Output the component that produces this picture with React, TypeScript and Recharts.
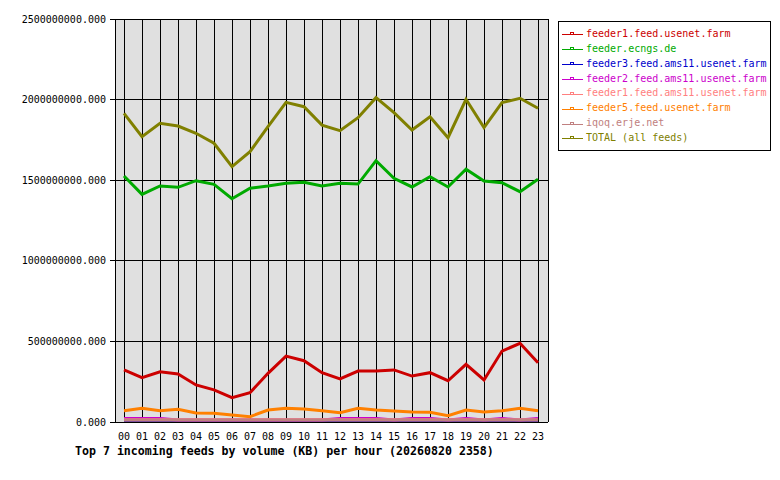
import React from 'react';
import { LineChart, Line, XAxis, YAxis, CartesianGrid, Legend } from 'recharts';

const hours = ['00','01','02','03','04','05','06','07','08','09','10','11','12','13','14','15','16','17','18','19','20','21','22','23'];

const feeder1Usenet = [323,275,312,298,230,199,151,182,302,409,380,306,267,316,316,323,285,306,256,358,261,440,488,368];
const ecngs = [1526,1412,1464,1456,1497,1474,1385,1450,1464,1481,1487,1464,1481,1476,1621,1512,1458,1522,1458,1568,1495,1484,1429,1506];
const feeder3Ams11 = [8,8,8,8,8,8,8,8,8,8,8,8,8,8,8,8,8,8,8,8,8,8,8,8];
const feeder2Ams11 = [21,21,21,12,12,12,12,12,12,12,12,12,21,21,21,12,21,21,12,21,12,21,12,21];
const feeder1Ams11 = [14,14,14,14,14,14,14,14,14,14,14,14,14,14,14,14,14,14,14,14,14,14,14,14];
const feeder5Usenet = [70,85,70,79,56,54,43,33,74,85,81,70,58,85,74,68,62,60,39,74,62,70,85,70];
const iqoq = [13,13,13,13,13,13,13,13,13,13,13,13,13,13,13,13,13,13,13,13,13,13,13,13];
const total = [1915,1770,1853,1836,1791,1729,1584,1677,1832,1983,1956,1842,1807,1888,2012,1919,1811,1894,1764,2002,1826,1981,2008,1946];

const yTicks = [0, 500000000, 1000000000, 1500000000, 2000000000, 2500000000];

const seriesNames = [
  'feeder1.feed.usenet.farm',
  'feeder.ecngs.de',
  'feeder3.feed.ams11.usenet.farm',
  'feeder2.feed.ams11.usenet.farm',
  'feeder1.feed.ams11.usenet.farm',
  'feeder5.feed.usenet.farm',
  'iqoq.erje.net',
  'TOTAL (all feeds)',
];
const seriesColors = ['#cc0000', '#00aa00', '#0000cc', '#cc00cc', '#ff8080', '#ff8000', '#c08080', '#808000'];
const seriesValues = [feeder1Usenet, ecngs, feeder3Ams11, feeder2Ams11, feeder1Ams11, feeder5Usenet, iqoq, total];

const data = hours.map((h, i) => {
  const row: Record<string, any> = { hour: h };
  seriesValues.forEach((arr, k) => {
    row['s' + k] = arr[i] * 1000000;
  });
  return row;
});

const FONT = '"DejaVu Sans Mono", monospace';

const LegendBox = () => (
  <div
    style={{
      border: '1px solid #000',
      background: '#fff',
      width: 213,
      height: 130,
      boxSizing: 'border-box',
      padding: '4px 0 0 3px',
      fontFamily: FONT,
      fontSize: 10,
    }}
  >
    {seriesNames.map((n, k) => (
      <div key={n} style={{ display: 'flex', alignItems: 'center', height: 14.86, color: seriesColors[k] }}>
        <svg width={21} height={8} style={{ marginRight: 3, flex: 'none' }}>
          <line x1={0} y1={5.5} x2={21} y2={5.5} stroke={seriesColors[k]} strokeWidth={1} shapeRendering="crispEdges" />
          <rect x={8.5} y={3.5} width={3} height={2} fill="#fff" stroke={seriesColors[k]} strokeWidth={1} shapeRendering="crispEdges" />
        </svg>
        <span style={{ whiteSpace: 'nowrap' }}>{n}</span>
      </div>
    ))}
  </div>
);

export default function App() {
  return (
    <div style={{ position: 'absolute', left: 0, top: 0, width: 780, height: 480, background: '#fff' }}>
      <style>{`.recharts-cartesian-grid line, .recharts-cartesian-axis-line, .recharts-cartesian-axis-tick-line { shape-rendering: crispEdges; }`}</style>
      <LineChart
        width={780}
        height={480}
        data={data}
        margin={{ top: 19, right: 232, bottom: 38, left: 0 }}
      >
        <CartesianGrid stroke="#000" strokeWidth={1} fill="#e0e0e0" fillOpacity={1} />
        <XAxis
          dataKey="hour"
          height={20}
          padding={{ left: 9, right: 10 }}
          tickLine={false}
          axisLine={{ stroke: '#000' }}
          tick={{ fill: '#000', fontFamily: FONT, fontSize: 10 }}
          tickMargin={5}
          interval={0}
        />
        <YAxis
          width={115}
          domain={[0, 2500000000]}
          ticks={yTicks}
          interval={0}
          tickFormatter={(v: number) => v.toFixed(3)}
          tickSize={5}
          tickMargin={4}
          tickLine={{ stroke: '#000' }}
          axisLine={{ stroke: '#000' }}
          tick={{ fill: '#000', fontFamily: FONT, fontSize: 10 }}
        />
        <YAxis
          yAxisId="right"
          orientation="right"
          width={0}
          tick={false}
          tickLine={false}
          axisLine={{ stroke: '#000' }}
        />
        <Legend
          layout="vertical"
          align="center"
          verticalAlign="middle"
          wrapperStyle={{ left: 558, top: 21, width: 213, height: 130 }}
          content={() => <LegendBox />}
        />
        {seriesNames.map((n, k) => (
          <Line
            key={n}
            type="linear"
            dataKey={'s' + k}
            name={n}
            stroke={seriesColors[k]}
            strokeWidth={3}
            dot={false}
            activeDot={false}
            isAnimationActive={false}
          />
        ))}
      </LineChart>
      <div
        style={{
          position: 'absolute',
          left: 75,
          top: 444,
          fontFamily: FONT,
          fontWeight: 'bold',
          fontSize: 11.6,
          color: '#000',
          whiteSpace: 'nowrap',
        }}
      >
        Top 7 incoming feeds by volume (KB) per hour (20260820 2358)
      </div>
    </div>
  );
}
